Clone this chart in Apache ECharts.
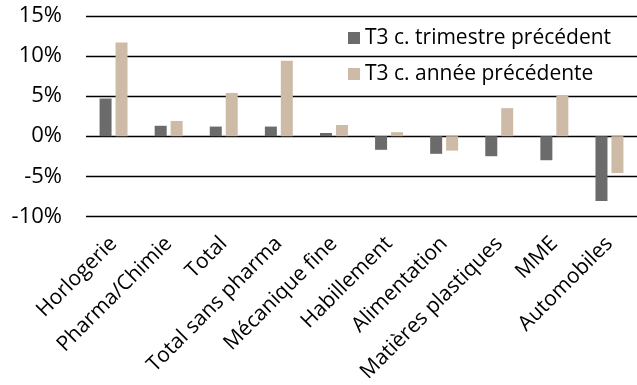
<!DOCTYPE html>
<html>
<head>
<meta charset="utf-8">
<script src="https://cdn.jsdelivr.net/npm/echarts@6/dist/echarts.min.js"></script>
<style>
  html, body { margin: 0; padding: 0; background: #fff; }
  #chart { width: 637px; height: 385px; }
</style>
</head>
<body>
<div id="chart"></div>
<script>
// Branches, ordered as on the axis
const categories = [
  'Horlogerie', 'Pharma/Chimie', 'Total', 'Total sans pharma', 'Mécanique fine',
  'Habillement', 'Alimentation', 'Matières plastiques', 'MME', 'Automobiles'
];
// Change in %, Q3 vs previous quarter
const vsPrevQuarter = [4.7, 1.3, 1.2, 1.2, 0.4, -1.7, -2.2, -2.5, -3.0, -8.1];
// Change in %, Q3 vs previous year
const vsPrevYear = [11.7, 1.9, 5.4, 9.4, 1.4, 0.5, -1.8, 3.5, 5.1, -4.6];
const seriesNames = ['T3 c. trimestre précédent', 'T3 c. année précédente'];
const yTicks = { min: -10, max: 15, step: 5 };

const FONT = 'Open Sans';
const chart = echarts.init(document.getElementById('chart'), null, { renderer: 'canvas' });

chart.setOption({
  animation: false,
  textStyle: { fontFamily: FONT },
  grid: { left: 86, top: 16, width: 556, height: 202, containLabel: false },
  legend: {
    orient: 'vertical',
    left: 343,
    top: 21,
    icon: 'rect',
    itemWidth: 12,
    itemHeight: 12,
    itemGap: 12,
    textStyle: { fontFamily: FONT, fontSize: 21, color: '#000', lineHeight: 24 },
    data: seriesNames
  },
  xAxis: {
    type: 'category',
    data: categories,
    axisLine: { show: false },
    axisTick: { show: false },
    axisLabel: {
      interval: 0,
      rotate: 45,
      margin: 24,
      fontFamily: FONT,
      fontSize: 21,
      color: '#000'
    }
  },
  yAxis: {
    type: 'value',
    min: yTicks.min,
    max: yTicks.max,
    interval: yTicks.step,
    axisLine: { show: false },
    axisTick: { show: false },
    splitLine: { lineStyle: { color: '#000', width: 1.4 } },
    axisLabel: {
      margin: 24,
      fontFamily: FONT,
      fontSize: 22,
      color: '#000',
      formatter: '{value}%'
    }
  },
  series: [
    {
      name: seriesNames[0],
      type: 'bar',
      data: vsPrevQuarter,
      barWidth: 12,
      barGap: '33%',
      itemStyle: { color: '#6b6b6b' }
    },
    {
      name: seriesNames[1],
      type: 'bar',
      data: vsPrevYear,
      barWidth: 12,
      itemStyle: { color: '#cdbba7' }
    }
  ]
});
</script>
</body>
</html>
